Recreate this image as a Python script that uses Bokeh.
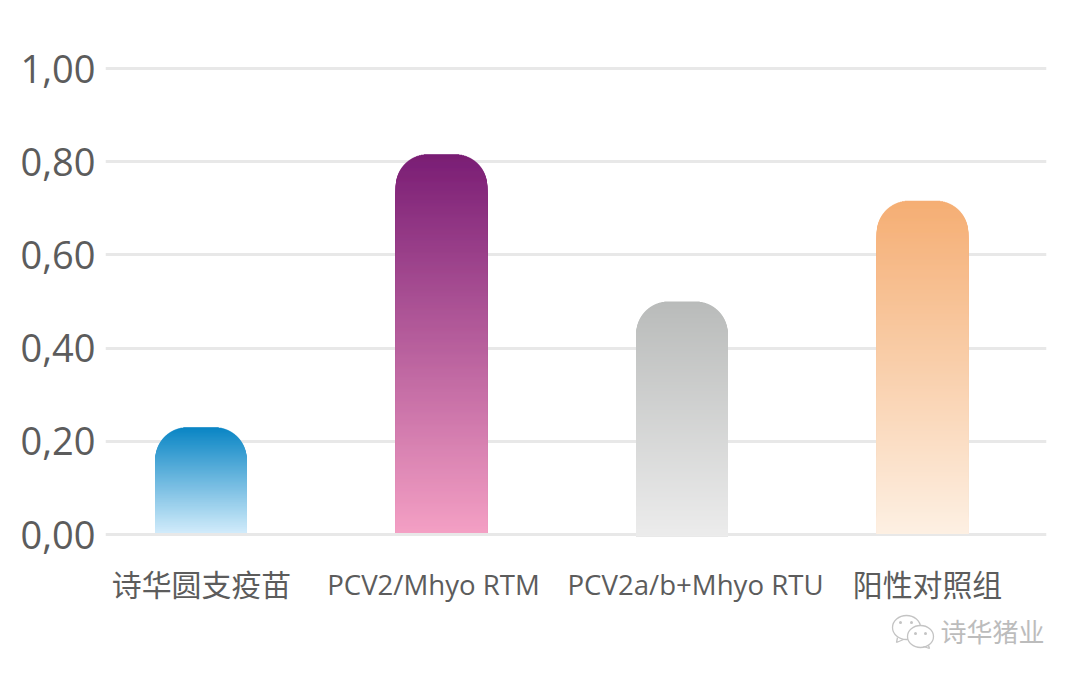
from bokeh.plotting import figure
from bokeh.models import ColumnDataSource, FixedTicker, Range1d
from bokeh.core.properties import value
from bokeh.embed import file_html
from bokeh.resources import INLINE

categories = ["诗华圆支疫苗", "PCV2/Mhyo RTM", "PCV2a/b+Mhyo RTU", "阳性对照组"]
values = [0.23, 0.816, 0.50, 0.716]
bases = [0.003, 0.003, -0.004, 0.001]
top_colors = ["#0a85c4", "#7a1e75", "#b9bbba", "#f5ae74"]
bottom_colors = ["#d2ecfb", "#f4a0c4", "#ececec", "#fdf0e3"]
y_ticks = [0.0, 0.2, 0.4, 0.6, 0.8, 1.0]
y_tick_labels = ["0,00", "0,20", "0,40", "0,60", "0,80", "1,00"]
label_offsets = [0.5, -8, 13.5, 5]
label_rows = [582, 583.5, 583.5, 582]
label_sizes = ["29.9px", "27.6px", "27.6px", "29.9px"]
label_fonts = ["Noto Sans CJK SC", "Open Sans", "Open Sans", "Noto Sans CJK SC"]
watermark = "诗华猪业"

PX_Y = 466.0      # pixels per unit of value
PX_X = 240.5      # pixels per category
BAR_W = 91.5 / PX_X
RADIUS = 32.0

def X(px):
    return (px - 200.5) / PX_X

def Y(py):
    return (534 - py) / PX_Y

p = figure(width=1064, height=664, output_backend="svg", toolbar_location=None,
           x_range=Range1d(X(105), X(1046)), y_range=Range1d(Y(664), Y(58)),
           min_border_left=105, min_border_right=18, min_border_top=58, min_border_bottom=0,
           x_axis_location=None, background_fill_color="white", border_fill_color="white")
p.outline_line_color = None
p.xgrid.visible = False
p.ygrid.ticker = FixedTicker(ticks=y_ticks)
p.ygrid.grid_line_color = "#e8e8e8"
p.ygrid.grid_line_width = 3

ax = p.yaxis[0]
ax.ticker = FixedTicker(ticks=y_ticks)
ax.major_label_overrides = dict(zip(y_ticks, y_tick_labels))
ax.axis_line_color = None
ax.major_tick_line_color = None
ax.minor_tick_line_color = None
ax.major_label_text_font = "Open Sans"
ax.major_label_text_font_size = "38px"
ax.major_label_text_color = "#5c5c5c"
ax.major_label_standoff = 4

def rgb(h):
    return [int(h[i:i + 2], 16) for i in (1, 3, 5)]

def mix(a, b, t):
    return "#%02x%02x%02x" % tuple(round(u + (v - u) * t) for u, v in zip(rgb(a), rgb(b)))

# Each bar: painted as nested layers from its rounded top down to the base,
# so the colour fades along the height with no seams.
xs, tops, widths, colors, bottoms = [], [], [], [], []
for i, v in enumerate(values):
    height_px = (v - bases[i]) * PX_Y
    d = 0.0
    while d < height_px:
        inset = 0.0
        if d < RADIUS:
            inset = RADIUS - (RADIUS ** 2 - (RADIUS - d - 0.25) ** 2) ** 0.5
        xs.append(i)
        tops.append(v - d / PX_Y)
        bottoms.append(bases[i])
        widths.append(BAR_W - 2 * inset / PX_X)
        colors.append(mix(top_colors[i], bottom_colors[i], d / height_px))
        d += 0.5 if d < RADIUS else 1.0
p.vbar(x=xs, top=tops, bottom=bottoms, width=widths, fill_color=colors, line_color=None)

# category labels
src = ColumnDataSource(dict(x=list(range(4)), y=[Y(r) for r in label_rows], t=categories,
                            off=label_offsets, size=label_sizes, font=label_fonts))
p.text(x="x", y="y", text="t", x_offset="off", text_font="font", text_font_size="size",
       text_color="#5c5c5c", text_align="center", text_baseline="middle", source=src)

# watermark
p.ellipse(x=[X(906), X(920)], y=[Y(627), Y(636)], width=[28, 26], height=[24, 22],
          width_units="screen", height_units="screen",
          fill_color=["white", "white"], line_color="#c4c4c4", line_width=1.3)
p.line(x=[X(897), X(896), X(903)], y=[Y(637), Y(642), Y(639)], line_color="#c4c4c4", line_width=1.3)
p.line(x=[X(923), X(929), X(928)], y=[Y(646), Y(648), Y(645)], line_color="#c4c4c4", line_width=1.3)
p.scatter(x=[X(900), X(911), X(915), X(925)], y=[Y(622), Y(622), Y(633), Y(633)], size=3,
          fill_color="#c4c4c4", line_color=None)
p.text(x=[X(992)], y=[Y(630)], text=[watermark], text_font=value("Noto Sans CJK SC"),
       text_font_size="26px", text_color="#bcbcbc", text_align="center", text_baseline="middle")

open("out.html", "w").write(file_html(p, INLINE))
